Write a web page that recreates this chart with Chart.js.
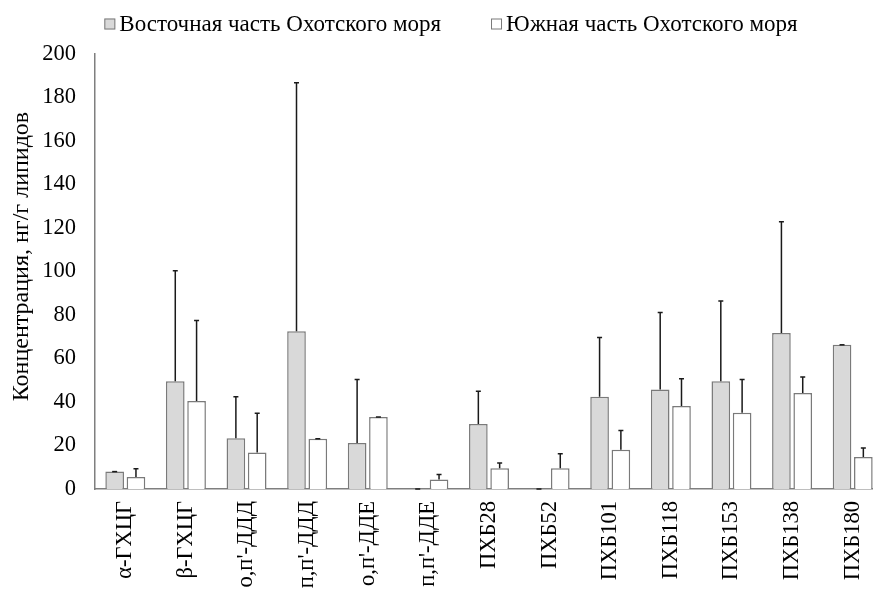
<!DOCTYPE html>
<html>
<head>
<meta charset="utf-8">
<script src="https://cdn.jsdelivr.net/npm/chart.js@4/dist/chart.umd.min.js"></script>
<style>
  html, body { margin: 0; padding: 0; background: #fff; overflow: hidden; }
  /* the plot runs slightly past the right edge of the visible frame */
  #frame { width: 873px; height: 594px; overflow: hidden; }
</style>
</head>
<body>
<div id="frame"><canvas id="chart" width="883" height="594"></canvas></div>
<script>
// Compounds on the category axis
const categories = ["α-ГХЦГ", "β-ГХЦГ", "о,п'-ДДД", "п,п'-ДДД", "о,п'-ДДЕ", "п,п'-ДДЕ",
                    "ПХБ28", "ПХБ52", "ПХБ101", "ПХБ118", "ПХБ153", "ПХБ138", "ПХБ180"];

// Series names
const seriesNames = ["Восточная часть Охотского моря", "Южная часть Охотского моря"];

// Mean concentrations, ng/g lipids
const eastValues  = [8.0, 49.5, 23.3, 72.5, 21.1, 0, 29.9, 0, 42.4, 45.8, 49.5, 71.7, 66.3];
const southValues = [5.5, 40.5, 16.8, 23.1, 33.1, 4.4, 9.5, 9.5, 18.1, 38.2, 35.1, 44.1, 14.7];

// Upper error (standard deviation)
const eastErrors  = [0, 50.9, 19.1, 114.3, 29.3, 0, 15.1, 0, 27.3, 35.4, 36.9, 51.2, 0];
const southErrors = [3.8, 37.0, 18.0, 0, 0, 2.3, 2.5, 6.7, 8.8, 12.5, 15.3, 7.4, 4.2];

// Value axis ticks
const yTicks = [0, 20, 40, 60, 80, 100, 120, 140, 160, 180, 200];
const yTitle = "\u00A0\u00A0\u00A0\u00A0\u00A0Концентрация, нг/г липидов";

const FONT = "'Liberation Serif', 'Times New Roman', serif";
Chart.defaults.font.family = FONT;
Chart.defaults.font.size = 22.5;
Chart.defaults.color = "#000";

// Draws one-sided (upper) error bars with a small cap
const errorBars = {
  id: "errorBars",
  afterDatasetsDraw(chart) {
    const ctx = chart.ctx;
    const yScale = chart.scales.y;
    chart.data.datasets.forEach((ds, i) => {
      const meta = chart.getDatasetMeta(i);
      if (!ds.errors || meta.hidden) return;
      meta.data.forEach((bar, j) => {
        const e = ds.errors[j];
        if (e == null) return;
        const v = ds.data[j];
        const yBase = yScale.getPixelForValue(v);
        const yTop = yScale.getPixelForValue(v + e);
        ctx.save();
        ctx.strokeStyle = "#1a1a1a";
        ctx.lineWidth = 1.5;
        ctx.beginPath();
        ctx.moveTo(bar.x, yBase);
        ctx.lineTo(bar.x, yTop);
        ctx.moveTo(bar.x - 2.5, yTop);
        ctx.lineTo(bar.x + 2.5, yTop);
        ctx.stroke();
        ctx.restore();
      });
    });
  }
};

// Single-row legend: square swatch, tight gap, then the series name
const legendRow = {
  id: "legendRow",
  afterDraw(chart, args, opts) {
    const ctx = chart.ctx;
    ctx.save();
    ctx.font = opts.fontSize + "px " + FONT;
    const items = chart.data.datasets.map(ds => ({
      text: ds.label,
      fill: ds.backgroundColor,
      stroke: ds.borderColor,
      w: ctx.measureText(ds.label).width
    }));
    const total = items.reduce((s, it) => s + opts.box + opts.textGap + it.w, 0)
                + opts.itemGap * (items.length - 1);
    let x = opts.centerX - total / 2;
    items.forEach(it => {
      const by = opts.y - opts.box / 2;
      ctx.fillStyle = it.fill;
      ctx.fillRect(x, by, opts.box, opts.box);
      ctx.strokeStyle = it.stroke;
      ctx.lineWidth = 1;
      ctx.strokeRect(x + 0.5, by + 0.5, opts.box - 1, opts.box - 1);
      x += opts.box + opts.textGap;
      ctx.fillStyle = "#000";
      ctx.textAlign = "left";
      ctx.textBaseline = "middle";
      ctx.fillText(it.text, x, opts.y + 1);
      x += it.w + opts.itemGap;
    });
    ctx.restore();
  }
};

new Chart(document.getElementById("chart"), {
  type: "bar",
  data: {
    labels: categories,
    datasets: [
      {
        label: seriesNames[0],
        data: eastValues,
        errors: eastErrors,
        backgroundColor: "#d9d9d9",
        borderColor: "#7a7a7a",
        borderWidth: 1.5
      },
      {
        label: seriesNames[1],
        data: southValues,
        errors: southErrors,
        backgroundColor: "#ffffff",
        borderColor: "#7a7a7a",
        borderWidth: 1.5
      }
    ]
  },
  options: {
    responsive: false,
    animation: false,
    devicePixelRatio: 1,
    layout: { padding: { left: 0, right: 0, top: 54, bottom: 0 } },
    datasets: { bar: { categoryPercentage: 0.703, barPercentage: 0.875 } },
    plugins: {
      tooltip: { enabled: false },
      legend: { display: false },
      legendRow: { fontSize: 23, box: 11, textGap: 4, itemGap: 50, centerX: 451, y: 24 }
    },
    scales: {
      x: {
        grid: { display: false, drawTicks: false },
        border: { display: true, color: "#7f7f7f", width: 1.5 },
        ticks: {
          autoSkip: false,
          minRotation: 90,
          maxRotation: 90,
          padding: 12,
          font: { size: 22.5 },
          color: "#000"
        },
        afterFit(scale) {
          scale.height = 105;
          scale.paddingLeft = 0;
          scale.paddingRight = 0;
        }
      },
      y: {
        min: 0,
        max: 200,
        afterBuildTicks(scale) { scale.ticks = yTicks.map(v => ({ value: v })); },
        grid: { display: false, drawTicks: false },
        border: { display: true, color: "#7f7f7f", width: 1.5 },
        ticks: { padding: 19, font: { size: 22.5 }, color: "#000" },
        title: {
          display: true,
          text: yTitle,
          font: { size: 24 },
          color: "#000",
          padding: { top: 7, bottom: 0 }
        },
        afterFit(scale) { scale.width = 95; }
      }
    }
  },
  plugins: [errorBars, legendRow]
});
</script>
</body>
</html>
